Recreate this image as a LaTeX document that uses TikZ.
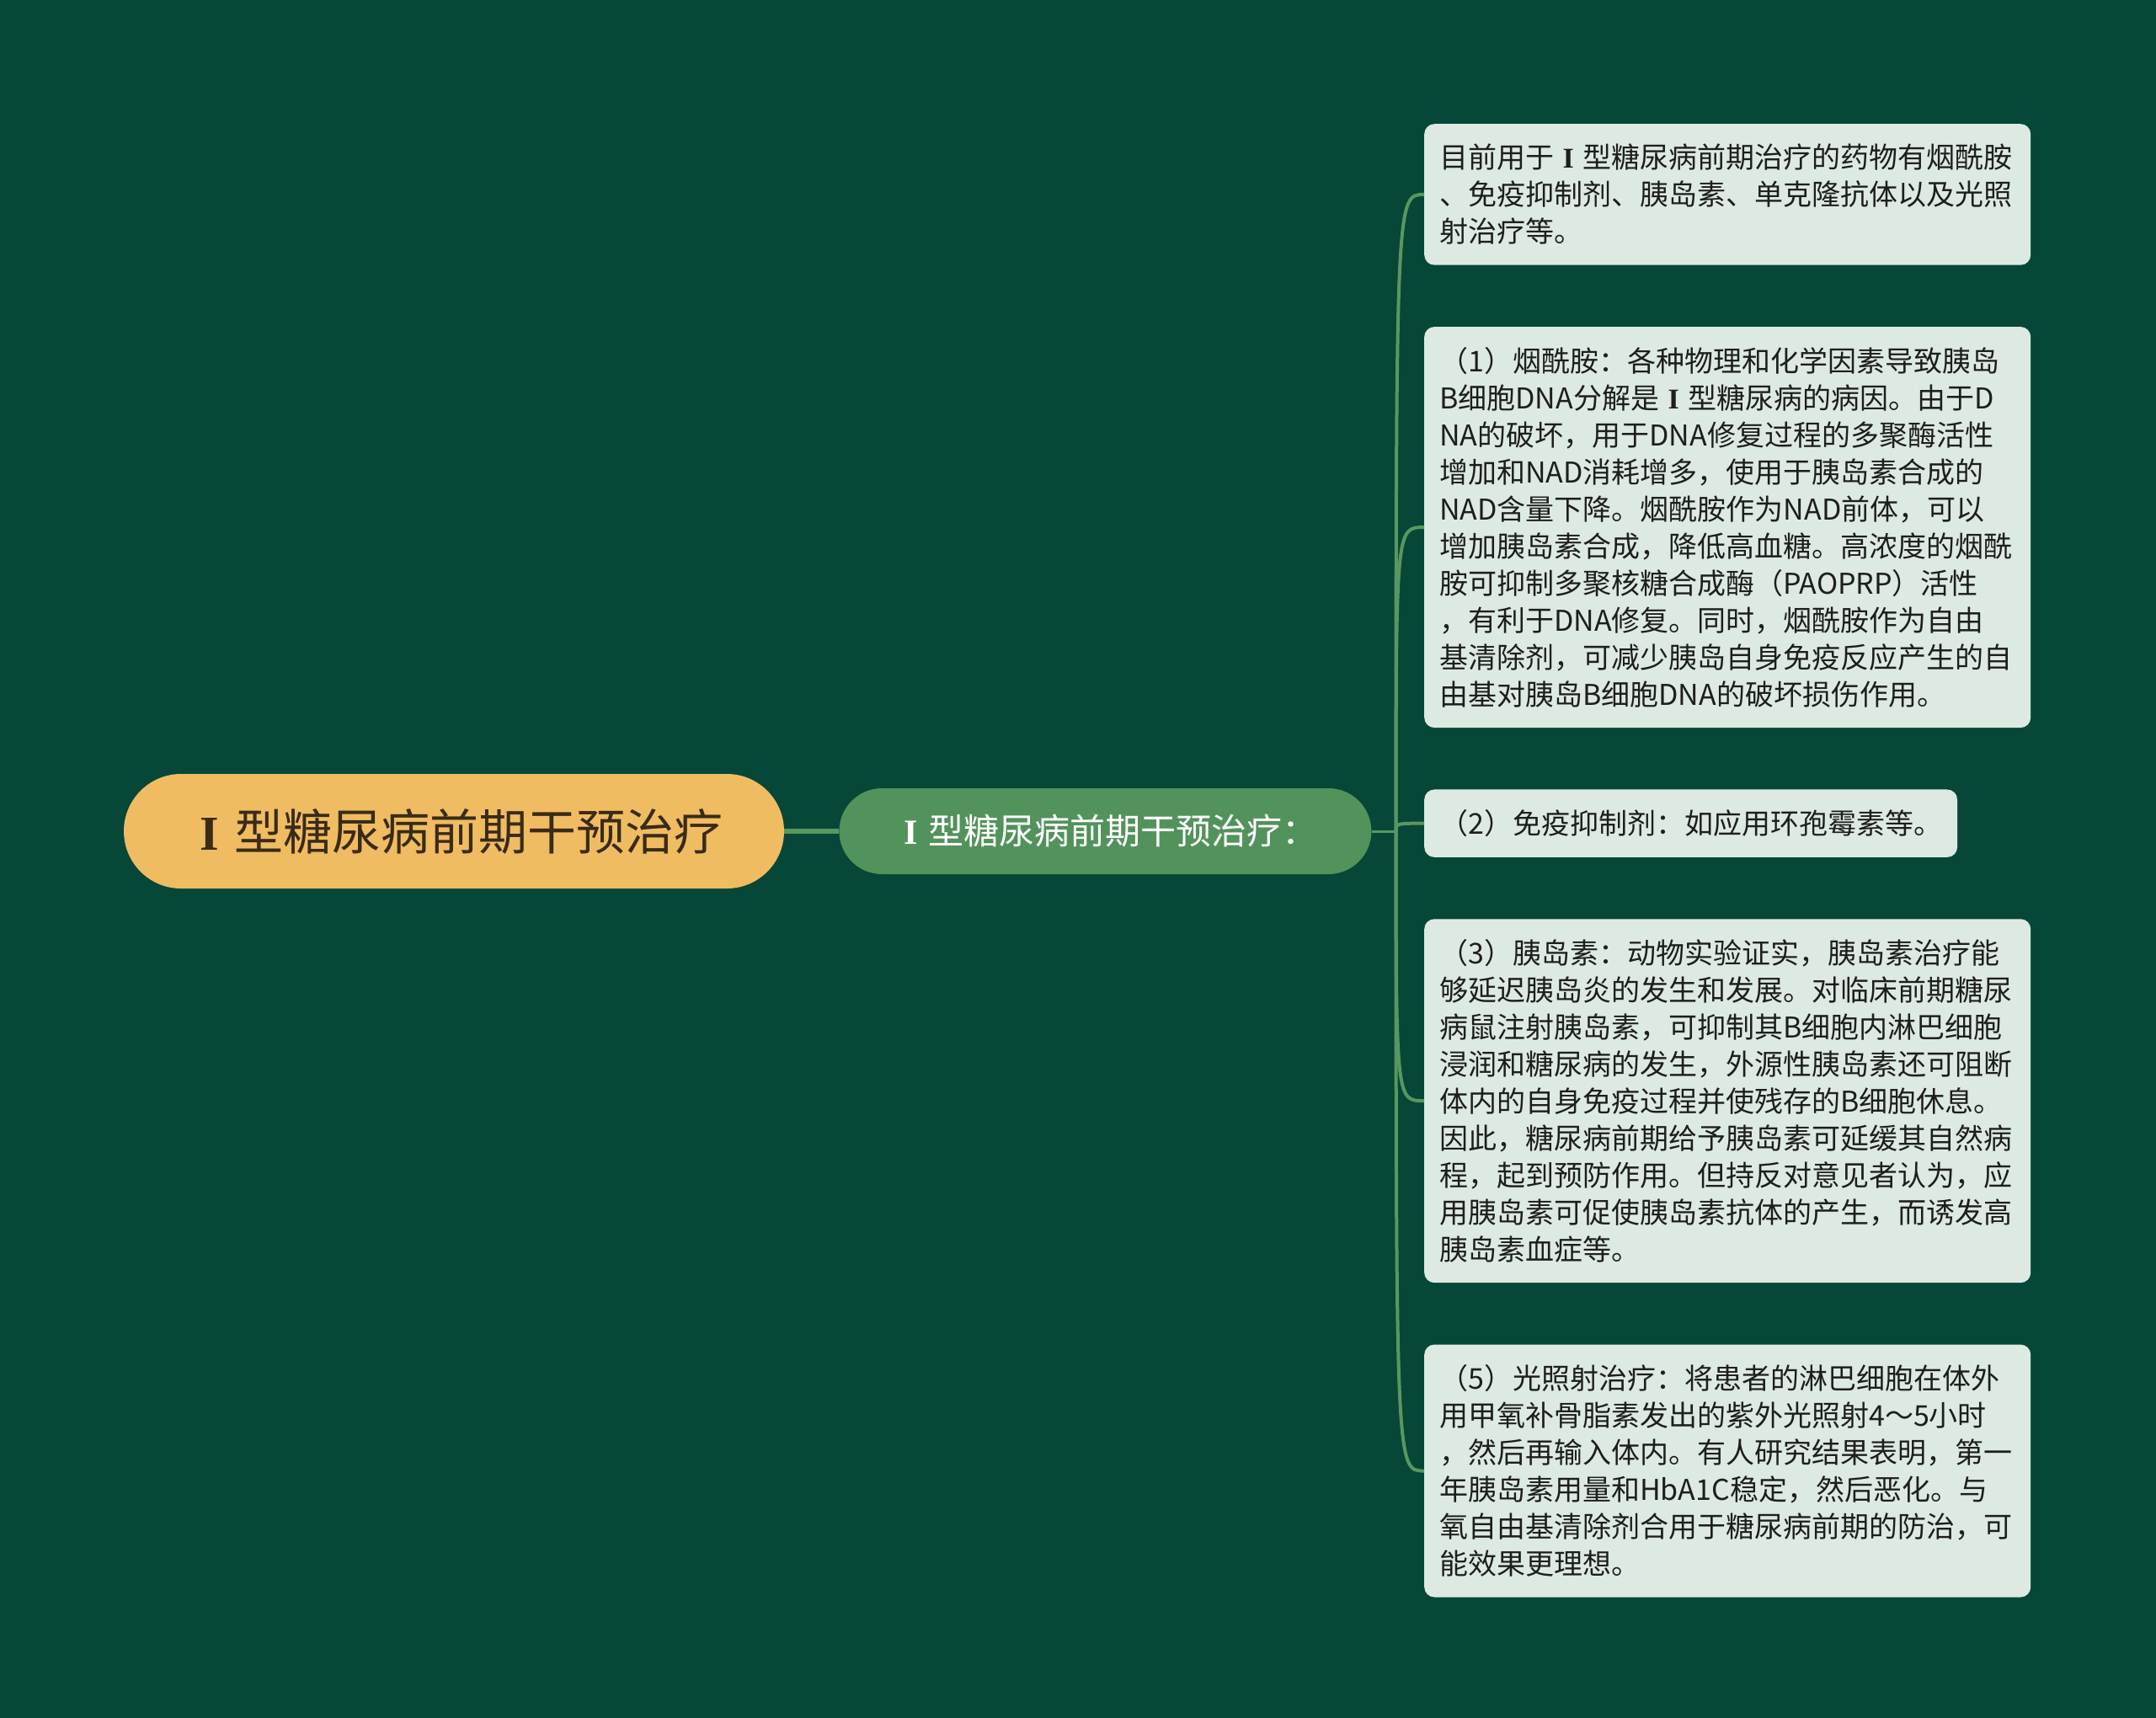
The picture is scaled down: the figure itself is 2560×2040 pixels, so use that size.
\documentclass[tikz,border=0pt]{standalone}
\usepackage{fontspec}
\setmainfont{Noto Sans CJK SC}
\newfontfamily\serifeins{Liberation Serif}
\usetikzlibrary{positioning}
\definecolor{hintergrund}{RGB}{6,71,56}
\definecolor{wurzelgelb}{RGB}{240,188,98}
\definecolor{zweiggruen}{RGB}{82,146,91}
\definecolor{blattgruen}{RGB}{221,234,225}
\definecolor{liniengruen}{RGB}{88,152,96}
\definecolor{wurzeltext}{RGB}{58,43,22}
\definecolor{blatttext}{RGB}{30,30,30}
\newcommand{\roemeins}{\makebox[1em]{\serifeins\bfseries I}}

\begin{document}
\begin{tikzpicture}[x=1pt, y=-1pt, % Einheiten in Pixeln, y nach unten
  wurzelknoten/.style={fill=wurzelgelb, text=wurzeltext, rounded corners=68pt,
    minimum width=784pt, minimum height=136pt, font=\fontsize{58}{68}\selectfont},
  zweigknoten/.style={fill=zweiggruen, text=white, rounded corners=51pt,
    minimum width=632pt, minimum height=102pt, font=\fontsize{42}{50}\selectfont},
  blattknoten/.style={fill=blattgruen, text=blatttext, rounded corners=12pt,
    inner xsep=18pt, inner ysep=24pt, align=left, font=\fontsize{34}{44}\selectfont},
  verbindung/.style={draw=liniengruen, line width=4pt}]

% Hintergrund
\fill[hintergrund] (0,0) rectangle (2560,2040);

% Hauptknoten
\node[wurzelknoten] (wurzel) at (539,987) {\roemeins 型糖尿病前期干预治疗};
\node[zweigknoten, right=65pt of wurzel] (zweig) {\roemeins 型糖尿病前期干预治疗：};

% Blaetter
\node[blattknoten, text width=684pt, anchor=north west] (blatt1) at (1691,147)
  {目前用于\roemeins 型糖尿病前期治疗的药物有烟酰胺\\
   、免疫抑制剂、胰岛素、单克隆抗体以及光照\\
   射治疗等。};
\node[blattknoten, text width=684pt, below=73pt of blatt1.south west, anchor=north west] (blatt2)
  {（1）烟酰胺：各种物理和化学因素导致胰岛\\
   B细胞DNA分解是\roemeins 型糖尿病的病因。由于D\\
   NA的破坏，用于DNA修复过程的多聚酶活性\\
   增加和NAD消耗增多，使用于胰岛素合成的\\
   NAD含量下降。烟酰胺作为NAD前体，可以\\
   增加胰岛素合成，降低高血糖。高浓度的烟酰\\
   胺可抑制多聚核糖合成酶（PAOPRP）活性\\
   ，有利于DNA修复。同时，烟酰胺作为自由\\
   基清除剂，可减少胰岛自身免疫反应产生的自\\
   由基对胰岛B细胞DNA的破坏损伤作用。};
\node[blattknoten, below=73pt of blatt2.south west, anchor=north west] (blatt3)
  {（2）免疫抑制剂：如应用环孢霉素等。};
\node[blattknoten, text width=684pt, below=73pt of blatt3.south west, anchor=north west] (blatt4)
  {（3）胰岛素：动物实验证实，胰岛素治疗能\\
   够延迟胰岛炎的发生和发展。对临床前期糖尿\\
   病鼠注射胰岛素，可抑制其B细胞内淋巴细胞\\
   浸润和糖尿病的发生，外源性胰岛素还可阻断\\
   体内的自身免疫过程并使残存的B细胞休息。\\
   因此，糖尿病前期给予胰岛素可延缓其自然病\\
   程，起到预防作用。但持反对意见者认为，应\\
   用胰岛素可促使胰岛素抗体的产生，而诱发高\\
   胰岛素血症等。};
\node[blattknoten, text width=684pt, below=73pt of blatt4.south west, anchor=north west] (blatt5)
  {（5）光照射治疗：将患者的淋巴细胞在体外\\
   用甲氧补骨脂素发出的紫外光照射4～5小时\\
   ，然后再输入体内。有人研究结果表明，第一\\
   年胰岛素用量和HbA1C稳定，然后恶化。与\\
   氧自由基清除剂合用于糖尿病前期的防治，可\\
   能效果更理想。};

% Verbindungen
\draw[verbindung, line width=6pt] (wurzel.east) -- (zweig.west);
\coordinate (stamm) at ([xshift=29pt]zweig.east);
\draw[verbindung, line width=3pt] (zweig.east) -- (stamm);
\foreach \n in {1,...,5}
  \draw[verbindung] (stamm) .. controls (stamm |- blatt\n.west) .. (blatt\n.west);

\end{tikzpicture}
\end{document}
